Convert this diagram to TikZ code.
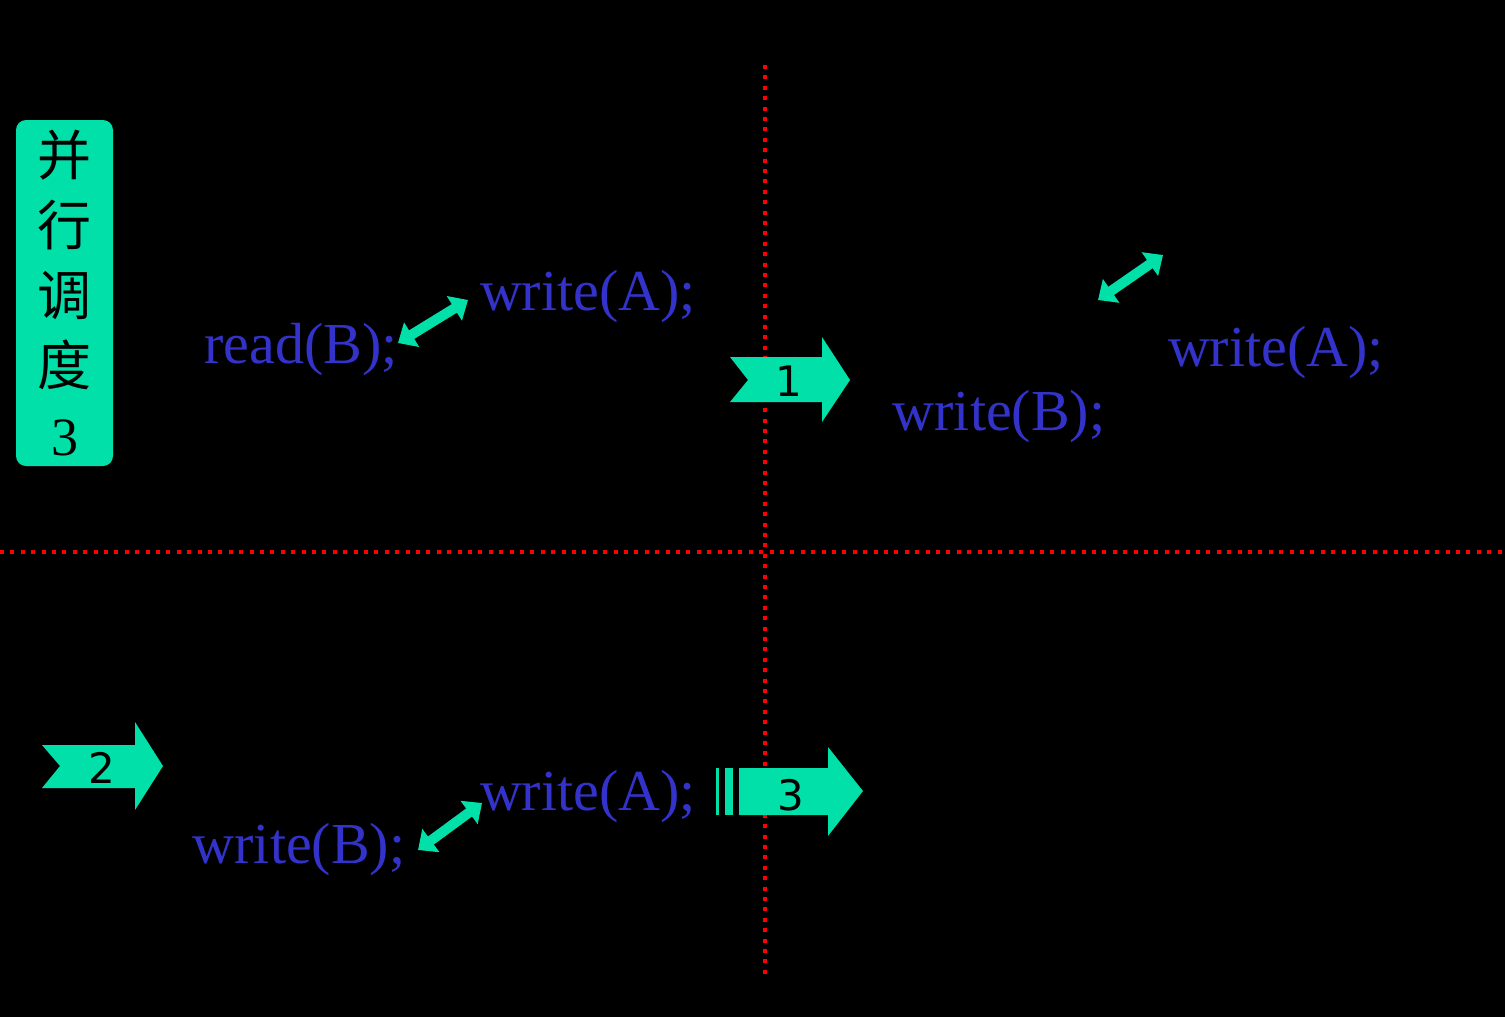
\documentclass[tikz,border=0pt]{standalone}
\usepackage{fontspec}
\setmainfont{Liberation Serif}
\newfontfamily\cjk{Noto Sans CJK SC}
\newfontfamily\sans{DejaVu Sans}
\usetikzlibrary{arrows.meta, positioning}
\definecolor{mint}{RGB}{0,224,168}
\definecolor{stmt}{RGB}{51,51,204}
\begin{document}
\begin{tikzpicture}[x=0.5pt, y=-0.5pt,
  stmt/.style = {text=stmt, font=\fontsize{29}{29}\selectfont, inner sep=0pt},
  link/.style = {mint, line width=5pt, {Triangle[length=8pt,width=14pt]}-{Triangle[length=8pt,width=14pt]}},
  stepno/.style = {font=\sans\fontsize{21}{21}\selectfont, inner sep=0pt},
  divider/.style = {red, line width=1.6pt, dash pattern=on 2pt off 3.2pt}]
  \fill[black] (0,0) rectangle (1505,1017);
  \useasboundingbox (0,0) rectangle (1505,1017);
  % label box
  \node[fill=mint, rounded corners=5pt, minimum width=48.5pt, minimum height=173pt,
    align=center, font=\cjk\fontsize{27}{35}\selectfont, inner sep=0pt] (title) at (64.5,293)
    {并\\行\\调\\度\\{\rmfamily 3}};
  % dividers
  \draw[divider] (765,65) -- (765,975);
  \draw[divider] (0,552) -- (1505,552);
  % statements
  \node[stmt] (rb1) at (301,350) {read(B);};
  \node[stmt] (wa1) at (588,297) {write(A);};
  \node[stmt] (wa2) at (1276,353) {write(A);};
  \node[stmt] (wb2) at (999,417) {write(B);};
  \node[stmt] (wb3) at (299,850) {write(B);};
  \node[stmt] (wa3) at (588,797) {write(A);};
  \coordinate (c1) at (398,343); \coordinate (c2) at (468,300);
  \coordinate (c3) at (1098,300); \coordinate (c4) at (1163,255);
  \coordinate (c5) at (418,850); \coordinate (c6) at (482,803);
  \draw[link] (c1) -- (c2);
  \draw[link] (c3) -- (c4);
  \draw[link] (c5) -- (c6);
  % step arrows
  \fill[mint] (730,357) -- (822,357) -- (822,337) -- (850,380) -- (822,422) -- (822,402)
    -- (730,402) -- (748,380) -- cycle;
  \node[stepno] (s1) at (789,381) {1};
  \fill[mint] (42,745) -- (135,745) -- (135,722) -- (163,766) -- (135,810) -- (135,788)
    -- (42,788) -- (60,766) -- cycle;
  \node[stepno] (s2) at (102,768) {2};
  \fill[mint] (716,768) rectangle (719,815);
  \fill[mint] (725,768) rectangle (733,815);
  \fill[mint] (739,768) -- (828,768) -- (828,747) -- (863,791) -- (828,836) -- (828,815)
    -- (739,815) -- cycle;
  \node[stepno] (s3) at (791,795) {3};
\end{tikzpicture}
\end{document}
